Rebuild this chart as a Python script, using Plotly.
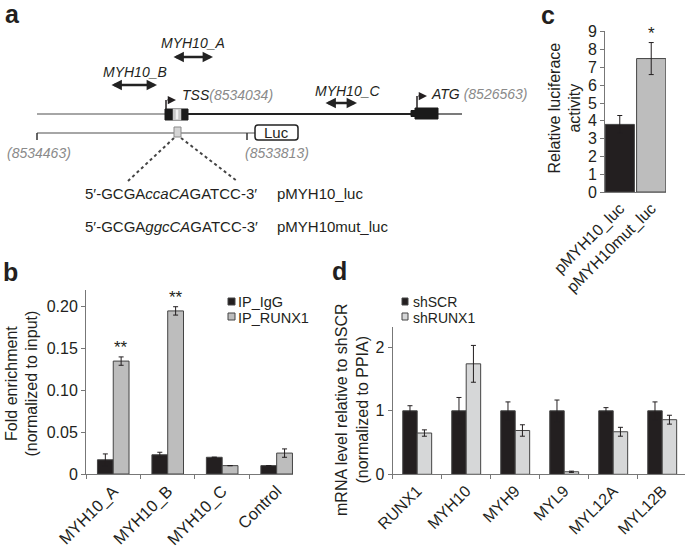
import plotly.graph_objects as go

W, H = 685, 548
FONT = "Liberation Sans"
INK = "#231f20"
GREY_TXT = "#8a8a8a"

# ---------------- data ----------------
# panel b: ChIP
b_categories = ["MYH10_A", "MYH10_B", "MYH10_C", "Control"]
b_igg = [0.017, 0.023, 0.020, 0.010]
b_igg_err = [0.007, 0.003, 0.0, 0.0]
b_runx1 = [0.135, 0.195, 0.010, 0.025]
b_runx1_err = [0.005, 0.005, 0.0, 0.005]
b_stars = ["**", "**", "", ""]
b_ytick_vals = [0, 0.05, 0.10, 0.15, 0.20]
b_ytick_text = ["0", "0.05", "0.10", "0.15", "0.20"]
b_series = ["IP_IgG", "IP_RUNX1"]

# panel c: luciferase
c_categories = ["pMYH10_luc", "pMYH10mut_luc"]
c_values = [3.8, 7.5]
c_err = [0.5, 0.9]
c_stars = ["", "*"]
c_ytick_vals = [0, 1, 2, 3, 4, 5, 6, 7, 8, 9]

# panel d: qPCR
d_categories = ["RUNX1", "MYH10", "MYH9", "MYL9", "MYL12A", "MYL12B"]
d_shscr = [1.0, 1.0, 1.0, 1.0, 1.0, 1.0]
d_shscr_err = [0.08, 0.21, 0.14, 0.17, 0.05, 0.14]
d_shrunx1 = [0.65, 1.74, 0.69, 0.04, 0.67, 0.86]
d_shrunx1_err = [0.05, 0.29, 0.09, 0.01, 0.07, 0.07]
d_ytick_vals = [0, 1, 2]
d_series = ["shSCR", "shRUNX1"]

# panel a: text content
seq_wt = "5\u2032-GCGA<i>ccaCA</i>GATCC-3\u2032"
seq_mut = "5\u2032-GCGA<i>ggcCA</i>GATCC-3\u2032"
construct_wt = "pMYH10_luc"
construct_mut = "pMYH10mut_luc"
amplicons = ["MYH10_A", "MYH10_B", "MYH10_C"]
tss_pos = "(8534034)"
atg_pos = "(8526563)"
construct_start = "(8534463)"
construct_end = "(8533813)"

# ---------------- helpers ----------------
def px(x):
    return x / W

def py(y):
    return 1 - y / H

BLACK_BAR = "#231f20"
GREY_B = "#bdbdbd"
GREY_D = "#d6d7d8"
EDGE = "#444444"
AXIS = "#777777"

fig = go.Figure()

def err(arr):
    return dict(type="data", array=arr, visible=True, color=INK, thickness=1, width=2.5)

# panel b bars
wb = 0.29
fig.add_trace(go.Bar(x=b_categories, y=b_igg, error_y=err(b_igg_err), width=wb, offset=-wb,
                     marker=dict(color=BLACK_BAR, line=dict(color=EDGE, width=1)),
                     xaxis="x", yaxis="y", showlegend=False, name=b_series[0]))
fig.add_trace(go.Bar(x=b_categories, y=b_runx1, error_y=err(b_runx1_err), width=wb, offset=0,
                     marker=dict(color=GREY_B, line=dict(color=EDGE, width=1)),
                     xaxis="x", yaxis="y", showlegend=False, name=b_series[1]))

# panel c bars
wc = 0.93
fig.add_trace(go.Bar(x=c_categories, y=c_values, error_y=err(c_err), width=wc,
                     marker=dict(color=[BLACK_BAR, GREY_B], line=dict(color=EDGE, width=1)),
                     xaxis="x2", yaxis="y2", showlegend=False))

# panel d bars
wd = 0.295
fig.add_trace(go.Bar(x=d_categories, y=d_shscr, error_y=err(d_shscr_err), width=wd, offset=-wd,
                     marker=dict(color=BLACK_BAR, line=dict(color=EDGE, width=1)),
                     xaxis="x3", yaxis="y3", showlegend=False, name=d_series[0]))
fig.add_trace(go.Bar(x=d_categories, y=d_shrunx1, error_y=err(d_shrunx1_err), width=wd, offset=0,
                     marker=dict(color=GREY_D, line=dict(color=EDGE, width=1)),
                     xaxis="x3", yaxis="y3", showlegend=False, name=d_series[1]))

tickfont = dict(family=FONT, size=16, color=INK)
common_x = dict(type="category", showline=True, linecolor=AXIS, linewidth=1, ticks="outside",
                ticklen=4, tickcolor=AXIS, tickangle=-45, tickfont=tickfont, showgrid=False,
                zeroline=False, fixedrange=True, automargin=False)
common_y = dict(showline=True, linecolor=AXIS, linewidth=1, ticks="outside", ticklen=4,
                tickcolor=AXIS, tickfont=tickfont, showgrid=False, zeroline=False, fixedrange=True,
                automargin=False)

fig.update_layout(
    width=W, height=H, margin=dict(l=0, r=0, t=0, b=0, autoexpand=False),
    paper_bgcolor="white", plot_bgcolor="white", barmode="overlay",
    font=dict(family=FONT, color=INK),
    xaxis=dict(common_x, domain=[px(86), px(293)], range=[-0.5, 3.3], tickson="boundaries",
               anchor="y", tickfont=dict(family=FONT, size=16.5, color=INK)),
    yaxis=dict(common_y, domain=[py(474), py(290)], range=[0, 0.22], tickvals=b_ytick_vals,
               ticktext=b_ytick_text, anchor="x"),
    xaxis2=dict(common_x, domain=[px(605), px(666)], range=[-0.47, 1.47], ticks="",
                anchor="y2"),
    yaxis2=dict(common_y, domain=[py(192), py(31)], range=[0, 9.05], tickvals=c_ytick_vals,
                anchor="x2"),
    xaxis3=dict(common_x, domain=[px(392.7), 1.0], range=[-0.5, 5.465], tickson="boundaries",
                anchor="y3", tickfont=dict(family=FONT, size=16, color=INK)),
    yaxis3=dict(common_y, domain=[py(474.3), py(327)], range=[0, 2.32], tickvals=d_ytick_vals,
                anchor="x3"),
)

ann = []
shapes = []

def text(x, y, s, size=15, color=INK, xanchor="center", yanchor="middle", angle=0, **kw):
    ann.append(dict(x=px(x), y=py(y), xref="paper", yref="paper", text=s, showarrow=False,
                    xanchor=xanchor, yanchor=yanchor, textangle=angle,
                    font=dict(family=FONT, size=size, color=color), **kw))

# stars (data referenced)
for i, s in enumerate(b_stars):
    if s:
        ann.append(dict(x=i + wb / 2, y=b_runx1[i] + b_runx1_err[i], xref="x", yref="y", text=s,
                        showarrow=False, yanchor="bottom", yshift=-2,
                        font=dict(family=FONT, size=17, color=INK)))
for i, s in enumerate(c_stars):
    if s:
        ann.append(dict(x=i, y=c_values[i] + c_err[i], xref="x2", yref="y2", text=s,
                        showarrow=False, yanchor="bottom", yshift=-2,
                        font=dict(family=FONT, size=17, color=INK)))

# axis titles
text(21.5, 384, "Fold enrichment<br>(normalized to input)", size=16, angle=-90)
text(564.5, 108, "Relative luciferace<br>activity", size=16, angle=-90)
text(352, 410, "mRNA level relative to shSCR<br>(normalized to PPIA)", size=16, angle=-90)

# legends
def rect(x0, y0, x1, y1, fill, line=EDGE, lw=1):
    shapes.append(dict(type="rect", xref="paper", yref="paper", x0=px(x0), y0=py(y0),
                       x1=px(x1), y1=py(y1), fillcolor=fill, line=dict(color=line, width=lw)))

def line(x0, y0, x1, y1, color=INK, lw=1.5, dash="solid"):
    shapes.append(dict(type="line", xref="paper", yref="paper", x0=px(x0), y0=py(y0),
                       x1=px(x1), y1=py(y1), line=dict(color=color, width=lw, dash=dash)))

rect(228, 298, 235, 305, BLACK_BAR)
rect(228, 313, 235, 320, GREY_B)
text(236, 301.5, b_series[0], size=14.5, xanchor="left")
text(236, 317.5, b_series[1], size=14.5, xanchor="left")

rect(402, 298, 408, 305, BLACK_BAR)
rect(402, 313, 408, 320, GREY_D)
text(411, 302, d_series[0], size=14, xanchor="left")
text(411, 317.5, d_series[1], size=14, xanchor="left")

# panel letters
for lab, x, y in [("a", 12, 14), ("b", 10, 272), ("c", 548, 15), ("d", 339, 271)]:
    text(x, y, "<b>%s</b>" % lab, size=25)

# ---------------- panel a diagram ----------------
line(37, 114, 165, 114, color="#888888", lw=1.3)
line(188, 114, 411, 114, color="#222222", lw=1.8)
line(438, 114, 462, 114, color="#333333", lw=1.3)
rect(165, 109, 188, 120, "#1a1a1a", line="#1a1a1a")
rect(173, 109, 181, 120, "#c8c8c8", line="#c8c8c8", lw=0.5)
rect(176, 110, 178, 119, "#f2f2f2", line="#f2f2f2", lw=0.5)
rect(411, 110.5, 416, 116.5, "#1a1a1a", line="#1a1a1a")
rect(415, 108, 438, 119, "#1a1a1a", line="#1a1a1a")

# bent arrows (TSS, ATG)
line(166, 109, 166, 100, lw=1.5)
line(417, 108, 417, 96, lw=1.5)
for (x0, x1, y) in [(166, 176, 100), (417, 427, 96)]:
    ann.append(dict(x=px(x1), y=py(y), xref="paper", yref="paper", ax=x0 - x1, ay=0,
                    text="", showarrow=True, arrowhead=2, arrowsize=1.1, arrowwidth=1.5,
                    arrowcolor=INK, standoff=0, startstandoff=0))

# amplicon double arrows
amp_geom = {"MYH10_A": (172, 213, 57, 193, 43),
            "MYH10_B": (110, 157, 85, 135, 72),
            "MYH10_C": (324, 357, 103, 348, 91)}
for name in amplicons:
    x0, x1, y, tx, ty = amp_geom[name]
    ann.append(dict(x=px(x1), y=py(y), xref="paper", yref="paper", ax=x0 - x1, ay=0,
                    text="", showarrow=True, arrowhead=2, arrowside="end+start", arrowsize=0.8,
                    arrowwidth=2.6, arrowcolor="#222222", standoff=0, startstandoff=0))
    text(tx, ty, "<i>%s</i>" % name, size=14)

text(180, 95, "<i>TSS</i><span style='color:%s'><i>%s</i></span>" % (GREY_TXT, tss_pos),
     size=14, xanchor="left")
text(429, 94, "<i>ATG</i> <span style='color:%s'><i>%s</i></span>" % (GREY_TXT, atg_pos),
     size=14, xanchor="left")

# construct
line(37, 133, 255, 133, color="#888888", lw=1.3)
line(37, 133, 37, 140, color="#333333", lw=1.5)
line(247, 133, 247, 140, color="#333333", lw=1.5)
rect(174, 127, 181, 137, "#d4d4d4", line="#8a8a8a")
r = 3
x0, y0, x1, y1 = 255, 125, 298, 140
path = ("M {a},{b} L {c},{b} Q {x1},{b} {x1},{d} L {x1},{e} Q {x1},{y1} {c},{y1} "
        "L {a},{y1} Q {x0},{y1} {x0},{e} L {x0},{d} Q {x0},{b} {a},{b} Z")
shapes.append(dict(type="path", xref="paper", yref="paper",
                   path=path.format(a=px(x0 + r), b=py(y0), c=px(x1 - r), d=py(y0 + r),
                                    e=py(y1 - r), x0=px(x0), x1=px(x1), y1=py(y1)),
                   fillcolor="white", line=dict(color="#222222", width=1.5)))
text(276.5, 132.5, "Luc", size=15)
text(39, 153, "<i>%s</i>" % construct_start, size=14, color=GREY_TXT)
text(277, 153, "<i>%s</i>" % construct_end, size=14, color=GREY_TXT)

line(174, 138, 128, 181, color="#444444", lw=2, dash="dot")
line(181, 138, 237, 181, color="#444444", lw=2, dash="dot")

text(83, 194, seq_wt, size=15, xanchor="left")
text(275, 194, construct_wt, size=15, xanchor="left")
text(83, 227, seq_mut, size=15, xanchor="left")
text(275, 227, construct_mut, size=15, xanchor="left")

fig.update_layout(annotations=ann, shapes=shapes)
fig.write_html("out.html",
               config={"displayModeBar": False, "staticPlot": True},
               post_script="document.body.style.margin='0px';"
                           "document.body.style.overflow='hidden';")
